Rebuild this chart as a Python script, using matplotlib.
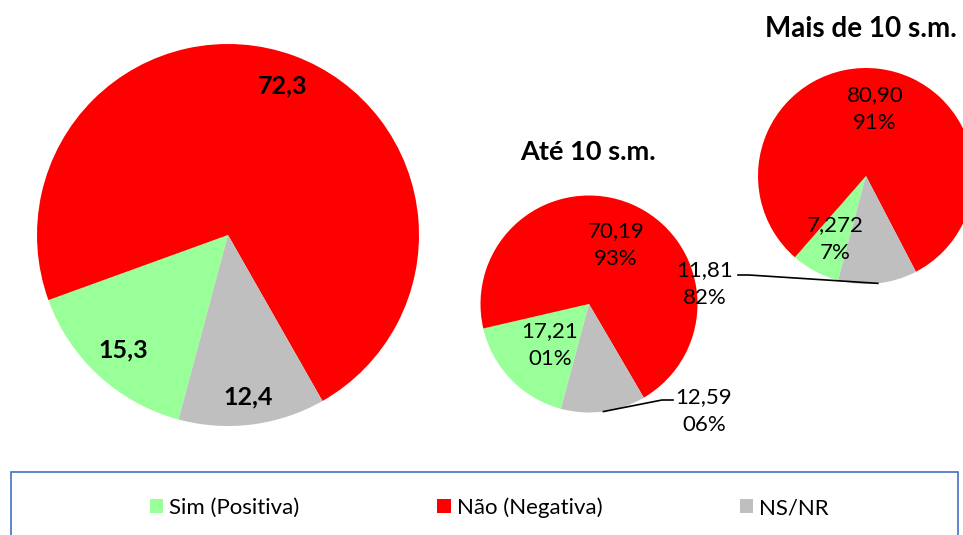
import numpy as np
import matplotlib
matplotlib.use('Agg')
import matplotlib.pyplot as plt
from matplotlib.patches import Rectangle

plt.rcParams['font.family'] = ['Lato', 'DejaVu Sans']

# dados
categorias = ['Sim (Positiva)', 'Não (Negativa)', 'NS/NR']
cores = ['#99FF99', '#FF0000', '#BFBFBF']

total = [15.3, 72.3, 12.4]
ate10 = [17.21, 70.19, 12.59]
mais10 = [7.272, 80.90, 11.81]

rot_ate10 = ['17,21\n01%', '70,19\n93%', '12,59\n06%']
rot_mais10 = ['7,272\n7%', '80,90\n91%', '11,81\n82%']

W, H = 963, 535
fig = plt.figure(figsize=(W / 100, H / 100), dpi=100)
ax = fig.add_axes([0, 0, 1, 1])

def py(y):
    # pixel row -> data y
    return H - y

def pizza(vals, cx, cy, r):
    w, _ = ax.pie(vals, colors=cores, startangle=-105, counterclock=False,
                  center=(cx, py(cy)), radius=r, frame=True,
                  wedgeprops=dict(linewidth=0))
    return w

w_tot = pizza(total, 228, 235, 191)
w_ate = pizza(ate10, 589, 304, 108.5)
w_mais = pizza(mais10, 866, 176, 108)

# rotulos grafico geral
pos_tot = [(123, 350), (283, 86), (248, 397)]
for v, (x, y) in zip(total, pos_tot):
    ax.text(x, py(y), f'{v:.1f}'.replace('.', ','), ha='center', va='center',
            fontsize=18, fontweight='bold', color='black')

pos_ate = [(550, 345), (616, 245), (704, 411)]
for t, (x, y) in zip(rot_ate10, pos_ate):
    ax.text(x, py(y), t, ha='center', va='center', fontsize=16,
            linespacing=1.5, color='black')

pos_mais = [(835, 239), (875, 109), (705, 284)]
for t, (x, y) in zip(rot_mais10, pos_mais):
    ax.text(x, py(y), t, ha='center', va='center', fontsize=16,
            linespacing=1.5, color='black')

# linhas de chamada ate a borda da fatia NS/NR
def ponta(w):
    ang = np.deg2rad((w.theta1 + w.theta2) / 2)
    return w.center[0] + w.r * np.cos(ang), w.center[1] + w.r * np.sin(ang)

x1, y1 = ponta(w_ate[2])
ax.plot([673, 662, x1], [py(400), py(400), y1], color='black', lw=1.2)
x2, y2 = ponta(w_mais[2])
ax.plot([738, 749, x2], [py(275), py(275), y2], color='black', lw=1.2)

ax.text(588, py(152), 'Até 10 s.m.', ha='center', va='center',
        fontsize=19.5, fontweight='bold')
ax.text(861, py(29), 'Mais de 10 s.m.', ha='center', va='center',
        fontsize=20, fontweight='bold')

# caixa da legenda
ax.add_patch(Rectangle((11, -20), 947, py(472) + 20, facecolor='none',
                       edgecolor='#4472C4', lw=1.2))
ax.legend(w_tot, categorias, ncol=3, frameon=False, loc='center',
          bbox_to_anchor=(489.5 / W, py(508) / H), fontsize=16,
          handlelength=0.59, handleheight=0.59, handletextpad=0.27,
          columnspacing=6.2)

ax.set_xlim(0, W)
ax.set_ylim(0, H)
ax.set_aspect('auto')
ax.axis('off')

fig.savefig('out.png', dpi=100, facecolor='white')
